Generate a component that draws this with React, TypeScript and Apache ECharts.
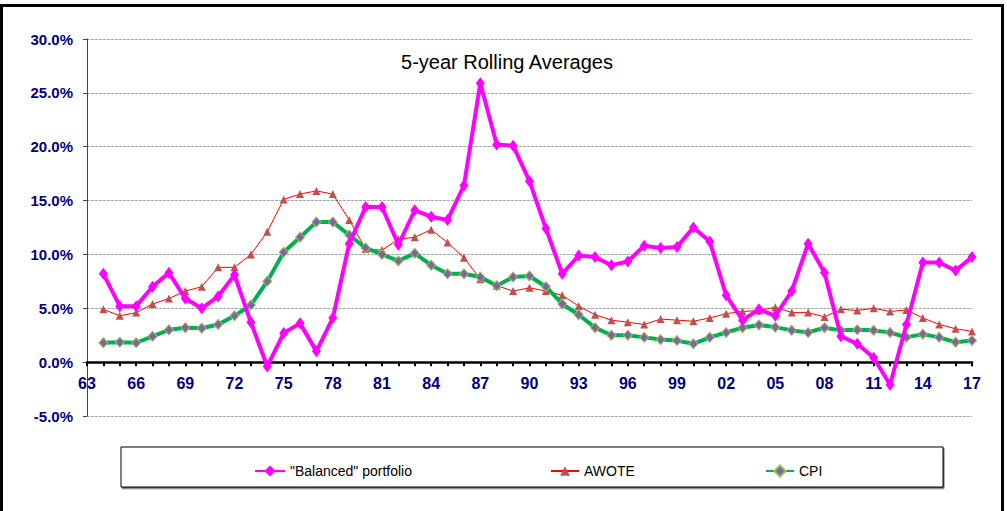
import React, { useEffect, useRef } from "react";
import * as echarts from "echarts";

const categories = [
  "63", "64", "65", "66", "67", "68", "69", "70", "71", "72", "73", "74", "75", "76", "77", "78", "79",
  "80", "81", "82", "83", "84", "85", "86", "87", "88", "89", "90", "91", "92", "93", "94", "95", "96",
  "97", "98", "99", "00", "01", "02", "03", "04", "05", "06", "07", "08", "09", "10", "11", "12", "13",
  "14", "15", "16", "17",
];

// values from 1964 to 2017 (%)
const balanced = [
  8.2, 5.2, 5.2, 7.0, 8.3, 5.9, 5.0, 6.1, 8.1, 3.7, -0.4, 2.7, 3.6, 1.0, 4.1,
  11.0, 14.4, 14.4, 10.9, 14.1, 13.5, 13.2, 16.4, 25.9, 20.2, 20.1, 16.8, 12.4, 8.2, 9.9,
  9.75, 9.0, 9.35, 10.8, 10.6, 10.7, 12.5, 11.2, 6.2, 3.9, 4.9, 4.3, 6.6, 11.0, 8.3,
  2.4, 1.7, 0.4, -2.1, 3.5, 9.25, 9.25, 8.5, 9.75,
];
const awote = [
  4.9, 4.3, 4.6, 5.4, 5.9, 6.6, 7.0, 8.8, 8.8, 10.0, 12.1, 15.1, 15.6, 15.9, 15.6,
  13.2, 10.5, 10.4, 11.4, 11.6, 12.3, 11.1, 9.7, 7.7, 7.1, 6.6, 6.9, 6.6, 6.2, 5.2,
  4.4, 3.9, 3.7, 3.5, 4.0, 3.9, 3.8, 4.1, 4.5, 4.7, 4.8, 5.1, 4.6, 4.6, 4.2,
  4.9, 4.8, 5.0, 4.7, 4.85, 4.1, 3.5, 3.1, 2.85,
];
const cpi = [
  1.8, 1.85, 1.8, 2.4, 3.0, 3.2, 3.15, 3.5, 4.3, 5.3, 7.5, 10.2, 11.6, 13.0, 13.0,
  11.8, 10.6, 10.0, 9.4, 10.1, 9.0, 8.2, 8.2, 7.9, 7.1, 7.9, 8.0, 7.0, 5.4, 4.4,
  3.2, 2.5, 2.5, 2.3, 2.1, 2.0, 1.7, 2.3, 2.75, 3.2, 3.45, 3.25, 2.95, 2.75, 3.2,
  2.95, 3.0, 2.95, 2.75, 2.3, 2.6, 2.3, 1.85, 2.0,
];

const FONT = 'Arial, "Liberation Sans", sans-serif';
const NAVY = "#000080";

export default function App() {
  const ref = useRef<HTMLDivElement>(null);
  useEffect(() => {
    document.body.style.margin = "0";
    const chart = echarts.init(ref.current!, null, { renderer: "svg" });
    const legendText = { fontFamily: FONT, fontSize: 14, color: "#000" };
    chart.setOption({
      animation: false,
      backgroundColor: "#fff",
      title: {
        text: "5-year Rolling Averages",
        left: 502,
        textAlign: "center",
        top: 47,
        textStyle: { fontFamily: FONT, fontSize: 20, fontWeight: "normal", color: "#000" },
      },
      grid: { left: 87, right: 35, top: 39, bottom: 95 },
      graphic: [
        {
          type: "rect",
          shape: { x: 1.5, y: 5.5, width: 1001, height: 520 },
          style: { fill: "none", stroke: "#000", lineWidth: 3 },
          z: 100,
        },
        {
          type: "rect",
          shape: { x: 121, y: 447, width: 822, height: 40 },
          style: {
            fill: "#fff",
            stroke: "#000",
            lineWidth: 1,
            shadowColor: "rgba(0,0,0,0.6)",
            shadowOffsetX: 1,
            shadowOffsetY: 1.5,
            shadowBlur: 1,
          },
          z: 0,
        },
      ],
      legend: [
        {
          data: ['"Balanced" portfolio'],
          left: 249,
          top: 459,
          itemWidth: 30,
          itemHeight: 14,
          itemGap: 4,
          textStyle: legendText,
        },
        {
          data: ["AWOTE"],
          left: 545,
          top: 459,
          itemWidth: 28,
          itemHeight: 12,
          textStyle: legendText,
        },
        {
          data: ["CPI"],
          left: 760,
          top: 459,
          itemWidth: 28,
          itemHeight: 14,
          textStyle: legendText,
        },
      ],
      xAxis: {
        type: "category",
        data: categories,
        boundaryGap: false,
        position: "bottom",
        axisLine: { onZero: false, lineStyle: { color: "#000", width: 2.5 } },
        axisTick: { show: true, interval: 0, length: 4, inside: false, lineStyle: { color: "#000", width: 2 } },
        axisLabel: {
          interval: 2,
          margin: 13,
          fontFamily: FONT,
          fontSize: 16,
          fontWeight: "bold",
          color: NAVY,
        },
        splitLine: { show: false },
      },
      yAxis: {
        type: "value",
        min: -5,
        max: 30,
        interval: 5,
        axisLine: { show: true, lineStyle: { color: "#444", width: 1 } },
        axisTick: { show: true, length: 4, lineStyle: { color: "#444" } },
        axisLabel: {
          formatter: (v: number) => v.toFixed(1) + "%",
          fontFamily: FONT,
          fontSize: 15,
          fontWeight: "bold",
          color: NAVY,
          margin: 14,
        },
        splitLine: { show: true, lineStyle: { color: "#a8a8a8", type: [3, 1], width: 1 } },
      },
      series: [
        {
          name: "AWOTE",
          type: "line",
          data: [null, ...awote],
          symbol: "triangle",
          symbolSize: 8,
          showAllSymbol: true,
          lineStyle: { color: "#ff0000", width: 1 },
          itemStyle: { color: "#c0504d" },
          z: 2,
        },
        {
          name: "CPI",
          type: "line",
          data: [null, ...cpi],
          symbol: "diamond",
          symbolSize: [9, 10],
          showAllSymbol: true,
          lineStyle: { color: "#00b050", width: 4 },
          itemStyle: { color: "#8064a2", borderColor: "#9bbb59", borderWidth: 1 },
          z: 3,
        },
        {
          name: '"Balanced" portfolio',
          type: "line",
          data: [null, ...balanced],
          symbol: "diamond",
          symbolSize: [9, 12],
          showAllSymbol: true,
          lineStyle: { color: "#ff00ff", width: 4 },
          itemStyle: { color: "#ff00ff" },
          z: 4,
        },
      ],
    });
    // move the category axis (line, ticks, labels) up to the zero line
    const y0 = chart.convertToPixel({ yAxisIndex: 0 }, 0) as number;
    const yMin = chart.convertToPixel({ yAxisIndex: 0 }, -5) as number;
    chart.setOption({ xAxis: { offset: y0 - yMin } });
    return () => chart.dispose();
  }, []);
  return (
    <div
      ref={ref}
      style={{ position: "absolute", left: 0, top: 0, width: 1007, height: 511 }}
    />
  );
}
